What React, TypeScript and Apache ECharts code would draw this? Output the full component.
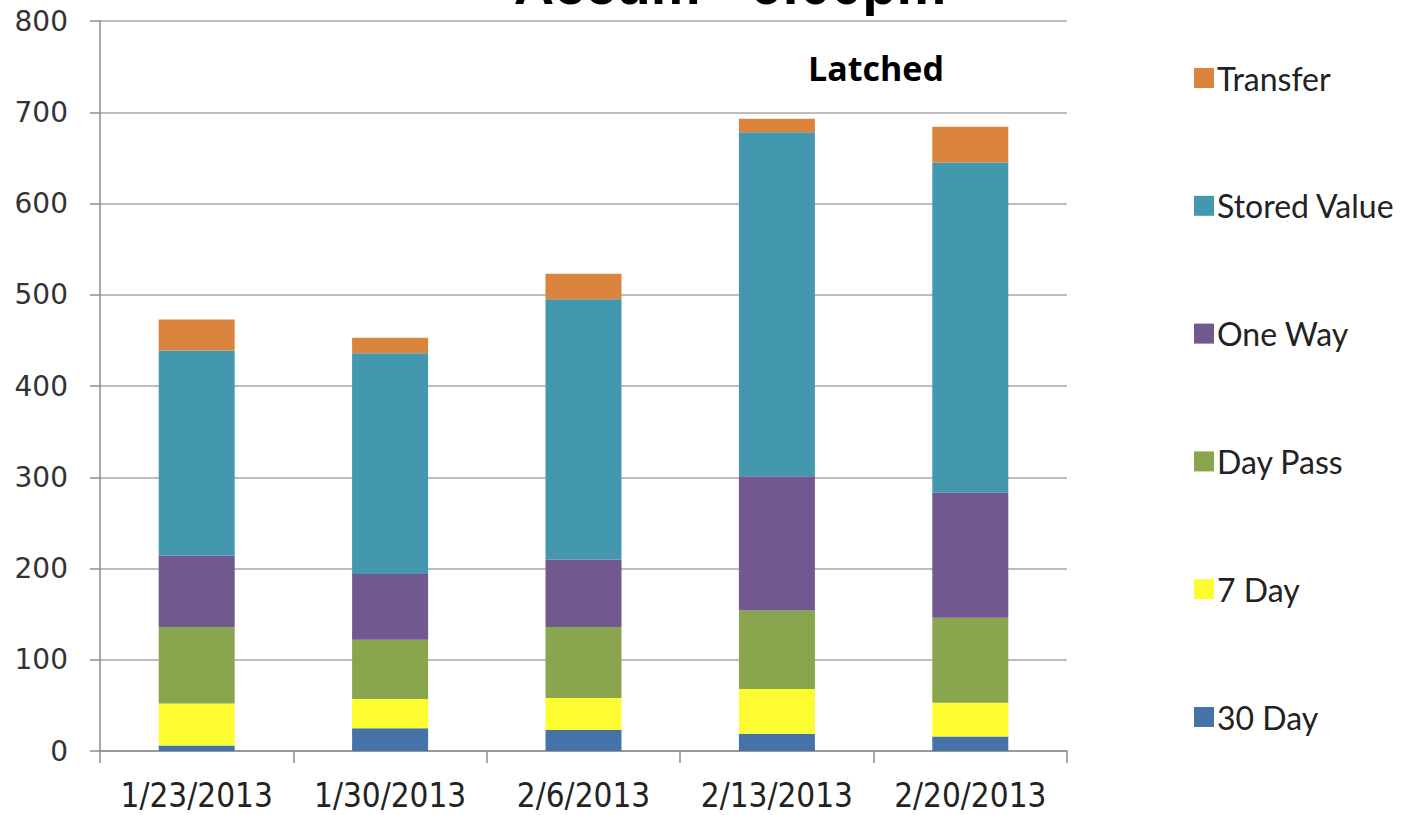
import React, { useEffect, useRef } from "react";
import * as echarts from "echarts";

const categories = ["1/23/2013", "1/30/2013", "2/6/2013", "2/13/2013", "2/20/2013"];
const seriesNames = ["30 Day", "7 Day", "Day Pass", "One Way", "Stored Value", "Transfer"];
const thirtyDay = [6, 25, 23, 19, 16];
const sevenDay = [46, 32, 35, 49, 37];
const dayPass = [84, 65, 78, 86, 93];
const oneWay = [78, 72, 74, 147, 137];
const storedValue = [225, 242, 285, 377, 362];
const transfer = [34, 17, 28, 15, 39];
const yTicks = [0, 100, 200, 300, 400, 500, 600, 700, 800];

const seriesData = [thirtyDay, sevenDay, dayPass, oneWay, storedValue, transfer];
const colors = ["#4572A7", "#FCFC30", "#89A54E", "#71588F", "#4398AF", "#DB843D"];

export default function App() {
  const ref = useRef<HTMLDivElement>(null);
  useEffect(() => {
    if (!ref.current) return;
    const chart = echarts.init(ref.current, undefined, { renderer: "svg" });
    chart.setOption({
      animation: false,
      backgroundColor: "#ffffff",
      color: colors,
      grid: { left: 100, right: 340, top: 21, bottom: 64, containLabel: false },
      graphic: [
        {
          type: "text",
          x: 730,
          y: 12,
          style: {
            text: "Accum - 6:00pm",
            font: "bold 56px 'Liberation Sans Narrow', 'Liberation Sans', sans-serif",
            fill: "#000",
            textAlign: "center",
            textVerticalAlign: "bottom",
          },
        },
        {
          type: "text",
          x: 876,
          y: 68,
          style: {
            text: "Latched",
            font: "bold 34px 'Open Sans', 'Noto Sans', sans-serif",
            fill: "#000",
            textAlign: "center",
            textVerticalAlign: "middle",
          },
        },
      ],
      legend: {
        orient: "vertical",
        left: 1189,
        top: 57,
        itemWidth: 20,
        itemHeight: 20,
        itemGap: 95.8,
        icon: "rect",
        data: [...seriesNames].reverse(),
        textStyle: {
          fontFamily: "Lato, 'Open Sans', sans-serif",
          fontSize: 32,
          color: "#222",
          padding: [0, 0, 0, -2],
        },
      },
      xAxis: {
        type: "category",
        data: categories,
        axisLine: { lineStyle: { color: "#8c8c8c", width: 1.5 } },
        axisTick: { show: true, length: 12, alignWithLabel: false, lineStyle: { color: "#8c8c8c", width: 1.5 } },
        axisLabel: {
          interval: 0,
          color: "#222",
          fontSize: 33,
          fontFamily: "'Liberation Sans Narrow', 'DejaVu Sans Condensed', sans-serif",
          margin: 28,
        },
      },
      yAxis: {
        type: "value",
        min: yTicks[0],
        max: yTicks[yTicks.length - 1],
        interval: 100,
        axisLine: { show: true, lineStyle: { color: "#8c8c8c", width: 1.5 } },
        axisTick: { show: true, length: 10, lineStyle: { color: "#8c8c8c", width: 1.5 } },
        splitLine: { lineStyle: { color: "#a6a6a6", width: 1.5 } },
        axisLabel: {
          color: "#333",
          fontSize: 28,
          fontFamily: "'DejaVu Sans', Verdana, sans-serif",
          margin: 32,
        },
      },
      series: seriesNames.map((name, i) => ({
        name,
        type: "bar",
        stack: "total",
        barWidth: 76,
        data: seriesData[i],
        itemStyle: { color: colors[i] },
      })),
    });
    return () => chart.dispose();
  }, []);
  return <div ref={ref} style={{ width: 1407, height: 815, position: "absolute", left: 0, top: 0 }} />;
}
